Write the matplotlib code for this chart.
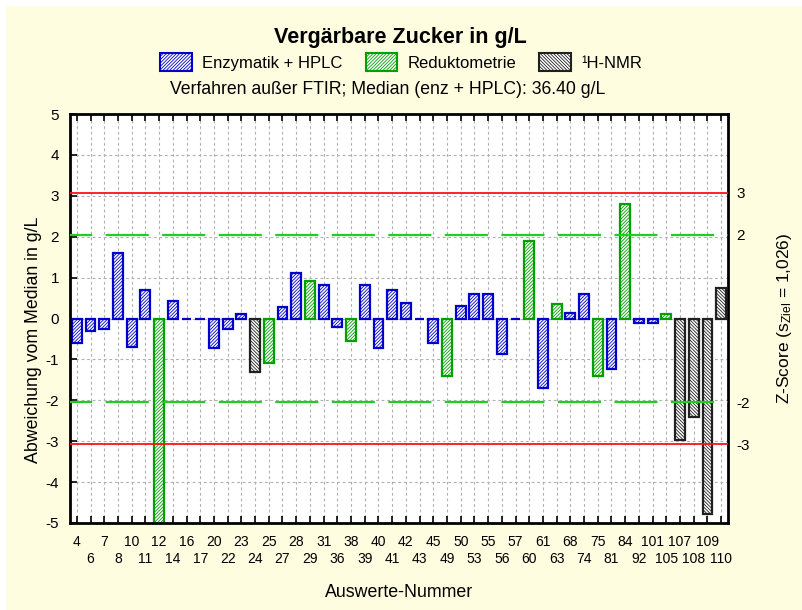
import matplotlib
matplotlib.use("Agg")
import matplotlib.pyplot as plt
from matplotlib.patches import Patch, Rectangle

plt.rcParams['font.family'] = ['Liberation Sans', 'DejaVu Sans']
plt.rcParams['mathtext.fontset'] = 'custom'
plt.rcParams['mathtext.rm'] = 'Liberation Sans'
plt.rcParams['mathtext.it'] = 'Liberation Sans:italic'
plt.rcParams['axes.unicode_minus'] = False
plt.rcParams['hatch.linewidth'] = 0.6
plt.rcParams['lines.scale_dashes'] = False

# Auswerte-Nummern (Labor) und Abweichung vom Median in g/L
labs = ["4", "6", "7", "8", "10", "11", "12", "14", "16", "17", "20", "22",
        "23", "24", "25", "27", "28", "29", "31", "36", "38", "39", "40", "41",
        "42", "43", "45", "49", "50", "53", "55", "56", "57", "60", "61", "63",
        "68", "74", "75", "81", "84", "92", "101", "105", "107", "108", "109", "110"]
werte = [-0.59, -0.30, -0.26, 1.61, -0.69, 0.70, -5.5, 0.42, -0.01, -0.01, -0.73, -0.26,
         0.10, -1.31, -1.10, 0.28, 1.11, 0.91, 0.81, -0.20, -0.55, 0.82, -0.71, 0.70,
         0.39, -0.01, -0.59, -1.40, 0.30, 0.61, 0.61, -0.87, -0.01, 1.90, -1.71, 0.35,
         0.13, 0.61, -1.40, -1.24, 2.81, -0.11, -0.11, 0.10, -2.97, -2.42, -4.79, 0.75]
# E = Enzymatik + HPLC, R = Reduktometrie, N = 1H-NMR
verfahren = ["E", "E", "E", "E", "E", "E", "R", "E", "E", "E", "E", "E",
             "E", "N", "R", "E", "E", "R", "E", "E", "R", "E", "E", "E",
             "E", "E", "E", "R", "E", "E", "E", "E", "E", "R", "E", "R",
             "E", "E", "R", "E", "R", "E", "E", "R", "N", "N", "N", "N"]

s_ziel = 1.026
median_txt = "36.40"

stil = {
    "E": dict(edgecolor="#0000cc", hatch="/" * 10, label="Enzymatik + HPLC"),
    "R": dict(edgecolor="#00a000", hatch="/" * 10, label="Reduktometrie"),
    "N": dict(edgecolor="#202020", hatch="\\" * 10, label="¹H-NMR"),
}

fig = plt.figure(figsize=(8.03, 6.10), dpi=100, facecolor="white")
# gelber Hintergrund (oben/links weisser Rand)
fig.patches.append(Rectangle((6 / 803, 0), 1, 1 - 6 / 610, transform=fig.transFigure,
                             facecolor="#fffde0", edgecolor="none", zorder=-10))

ax = fig.add_axes([70 / 803, 1 - 523 / 610, (728 - 70) / 803, (523 - 114) / 610])
ax.set_facecolor("white")

x = list(range(len(labs)))
for i in x:
    st = stil[verfahren[i]]
    ax.bar(i, werte[i], width=0.72, facecolor="white", edgecolor=st["edgecolor"],
           hatch=st["hatch"], linewidth=1.6, zorder=2)

# Grenzlinien |z| = 2 und |z| = 3
for z in (3, -3):
    ax.axhline(z * s_ziel, color="#ff1010", linewidth=1.3, zorder=3)
for z in (2, -2):
    ax.axhline(z * s_ziel, color="#22cc22", linewidth=1.6, zorder=3,
               linestyle=(15, (31, 9.7)))

ax.set_xlim(-0.5, len(labs) - 0.5)
ax.set_ylim(-5, 5)
ax.set_yticks(range(-5, 6))
# Beschriftung in zwei Reihen: gerade Indizes oben, ungerade unten
ax.set_xticks(x[0::2])
ax.set_xticklabels(labs[0::2], fontsize=10)
ax.set_xticks(x[1::2], minor=True)
ax.set_xticklabels(labs[1::2], minor=True, fontsize=10)
ax.tick_params(axis="x", which="both", direction="in", top=True, length=5, width=1.2)
ax.tick_params(axis="x", which="major", pad=9)
ax.tick_params(axis="x", which="minor", pad=21)
ax.tick_params(axis="y", direction="in", right=True, length=5, width=1.2, labelsize=11, pad=8)
ax.grid(True, which="both", color="#b0b0b0", linestyle=(0, (2, 2)), linewidth=0.8, zorder=0)
ax.set_axisbelow(True)
for sp in ax.spines.values():
    sp.set_linewidth(2)

ax.set_ylabel("Abweichung vom Median in g/L", fontsize=12.8)
ax.yaxis.set_label_coords(-0.043, 0.447)
ax.set_xlabel("Auswerte-Nummer", fontsize=12.8, labelpad=13)

ax2 = ax.twinx()
ax2.set_ylim(-5 / s_ziel, 5 / s_ziel)
ax2.set_yticks([-3, -2, 2, 3])
ax2.set_yticklabels(["-3", "-2", "2", "3"])
ax2.tick_params(axis="y", length=0, labelsize=11, pad=6)
for sp in ax2.spines.values():
    sp.set_visible(False)
ax2.set_ylabel("Z-Score (s$_{\\mathrm{Ziel}}$ = 1,026)", fontsize=12.5, labelpad=18)

fig.text(400 / 803, 1 - 37 / 610, "Vergärbare Zucker in g/L", fontsize=15.5,
         fontweight="bold", ha="center", va="center")
handles = [Patch(facecolor="white", edgecolor=stil[k]["edgecolor"], hatch=stil[k]["hatch"],
                 linewidth=1.5, label=stil[k]["label"]) for k in ("E", "R", "N")]
fig.legend(handles=handles, loc="center", bbox_to_anchor=(401 / 803, 1 - 62 / 610),
           ncol=3, frameon=False, fontsize=12, handlelength=1.9, handleheight=1.2,
           handletextpad=0.6, columnspacing=1.4)
fig.text(388 / 803, 1 - 90 / 610, "Verfahren außer FTIR; Median (enz + HPLC): " + median_txt + " g/L",
         fontsize=12.7, ha="center", va="center")

fig.savefig("out.png", dpi=100, facecolor=fig.get_facecolor())
